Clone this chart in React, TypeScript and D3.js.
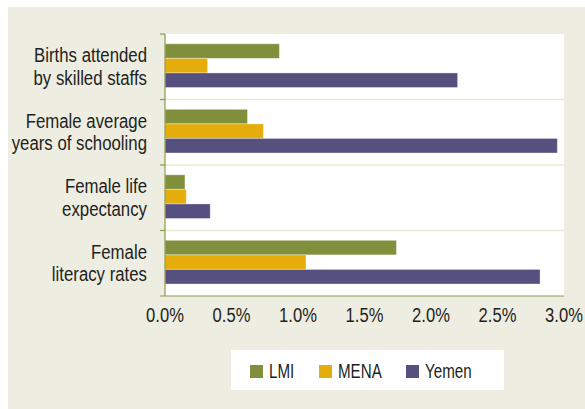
import React from "react";
import * as d3 from "d3";

const categories = [
  ["Births attended", "by skilled staffs"],
  ["Female average", "years of schooling"],
  ["Female life", "expectancy"],
  ["Female", "literacy rates"],
];
const seriesNames = ["LMI", "MENA", "Yemen"];
const lmiValues = [0.86, 0.62, 0.15, 1.74];
const menaValues = [0.32, 0.74, 0.16, 1.06];
const yemenValues = [2.2, 2.95, 0.34, 2.82];
const xTicks = [0, 0.5, 1, 1.5, 2, 2.5, 3];

const colors = ["#7f8f3b", "#e5ad0c", "#56507e"];
const FONT = "'Liberation Sans', Arial, sans-serif";
const TEXT = "#231f20";

export default function App() {
  const W = 585, H = 409;
  const left = 165, right = 564, top = 34, bottom = 296;
  const x = d3.scaleLinear().domain([0, 3]).range([left, right]);
  const catKeys = categories.map((c) => c.join(" "));
  const y = d3.scaleBand().domain(catKeys).range([top, bottom]);
  const sub = d3
    .scaleBand()
    .domain(seriesNames)
    .range([0, y.bandwidth()])
    .paddingOuter(0.75)
    .align(0.45);
  const values = [lmiValues, menaValues, yemenValues];
  const fmt = d3.format(".1f");
  const legendX = [250, 319, 406];

  return (
    <svg
      width={W}
      height={H}
      style={{ position: "absolute", left: 0, top: 0, display: "block" }}
      fontFamily={FONT}
    >
      <rect x={0} y={0} width={W} height={H} fill="#ffffff" />
      <rect x={8} y={7} width={W - 8} height={H - 7} fill="#eeede2" />
      <rect x={left} y={top} width={right - left} height={bottom - top} fill="#ffffff" />
      {/* grid lines */}
      {catKeys.slice(1).map((k) => (
        <line
          key={k}
          x1={left}
          x2={right}
          y1={y(k)!}
          y2={y(k)!}
          stroke="#ece8d3"
          strokeWidth={1.5}
        />
      ))}
      {/* bars */}
      {catKeys.map((k, ci) =>
        seriesNames.map((s, si) => (
          <rect
            key={k + s}
            x={x(0)}
            y={y(k)! + sub(s)!}
            width={x(values[si][ci]) - x(0)}
            height={sub.bandwidth()}
            fill={colors[si]}
            stroke="rgba(255,255,255,0.35)"
            strokeWidth={1}
          />
        ))
      )}
      {/* axes */}
      <line x1={left} x2={left} y1={top} y2={bottom} stroke="#8a9a4a" strokeWidth={1.2} />
      <line x1={left - 5} x2={right} y1={bottom} y2={bottom} stroke="#8a9a4a" strokeWidth={1.2} />
      {catKeys.map((k) => (
        <line key={"t" + k} x1={left - 5} x2={left} y1={y(k)!} y2={y(k)!} stroke="#8a9a4a" strokeWidth={1.2} />
      ))}
      {/* category labels */}
      {categories.map((lines, ci) => {
        const cy = y(catKeys[ci])! + y.bandwidth() / 2;
        return lines.map((ln, li) => (
          <text
            key={"l" + ci + "_" + li}
            transform={`translate(147,${cy - 4.5 + li * 22.5}) scale(0.8,1)`}
            textAnchor="end"
            fontSize={21}
            fill={TEXT}
          >
            {ln}
          </text>
        ));
      })}
      {/* x tick labels */}
      {xTicks.map((t) => (
        <text
          key={"x" + t}
          transform={`translate(${x(t)},321.5) scale(0.85,1)`}
          textAnchor="middle"
          fontSize={19.5}
          fill={TEXT}
        >
          {fmt(t) + "%"}
        </text>
      ))}
      {/* legend */}
      <rect x={231} y={350} width={273} height={40} fill="#ffffff" />
      {seriesNames.map((s, si) => (
        <g key={"lg" + s}>
          <rect x={legendX[si]} y={365} width={13} height={13} fill={colors[si]} />
          <text
            transform={`translate(${legendX[si] + 19},377.5) scale(0.74,1)`}
            fontSize={20.5}
            fill={TEXT}
          >
            {s}
          </text>
        </g>
      ))}
    </svg>
  );
}
